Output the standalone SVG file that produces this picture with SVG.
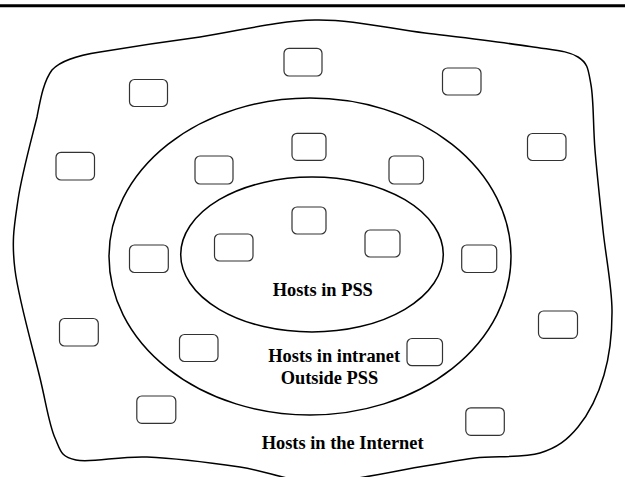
<svg xmlns="http://www.w3.org/2000/svg" width="625" height="477" viewBox="0 0 625 477">
<style>
.region{fill:none;stroke:#000;stroke-width:1.5}
.host{fill:#fff;stroke:#333;stroke-width:1.2}
.lbl{font-family:"Liberation Serif","Times New Roman",serif;font-weight:bold;font-size:18.4px;fill:#000}
</style>
<rect x="0" y="0" width="625" height="477" fill="#fff"/>
<line x1="0" y1="5.8" x2="625" y2="5.8" stroke="#000" stroke-width="3"/>
<g id="internet">
<path class="region" d="M 315,20 C 352.5,19.3 389.2,28.6 425,33 C 460.8,37.4 504.5,42.5 530,46.5 C 555.5,50.5 567.8,50.6 578,57 C 588.2,63.4 588.2,69.5 591,85 C 593.8,100.5 593,125.8 595,150 C 597,174.2 600.2,203.3 603,230 C 605.8,256.7 611.8,285.8 612,310 C 612.2,334.2 609.7,355.5 604,375 C 598.3,394.5 588.7,414 578,427 C 567.3,440 557.2,447.8 540,453 C 522.8,458.2 494.2,455.8 475,458 C 455.8,460.2 450.8,462 425,466 C 399.2,470 350.8,481.8 320,482 C 289.2,482.2 268.8,471.2 240,467 C 211.2,462.8 174.3,458.2 147,457 C 119.7,455.8 91.3,463.2 76,460 C 60.7,456.8 61,451.7 55,438 C 49,424.3 46.7,406 40,378 C 33.3,350 18.7,299.7 15,270 C 11.3,240.3 14.3,225.5 18,200 C 21.7,174.5 32,137.3 37,117 C 40,102 43,82 52,70 C 60,61 75,56 100,52 C 130,47 170,41 200,37 C 240,30.8 277.5,20.7 315,20 Z"/>
<text class="lbl" x="261.7" y="449.3">Hosts in the Internet</text>
</g>
<g id="intranet">
<ellipse class="region" cx="310" cy="256.5" rx="201" ry="158.5"/>
<text class="lbl" x="268.3" y="361.7">Hosts in intranet</text>
<text class="lbl" x="280.7" y="384">Outside PSS</text>
</g>
<g id="pss">
<ellipse class="region" cx="312" cy="254.5" rx="131.3" ry="77.5"/>
<text class="lbl" x="272.7" y="296">Hosts in PSS</text>
</g>
<g id="connectors"/>
<g id="host1"><rect class="host" x="284" y="48.3" width="38" height="27.7" rx="5"/></g>
<g id="host2"><rect class="host" x="129.5" y="79.5" width="38" height="27" rx="5"/></g>
<g id="host3"><rect class="host" x="442.5" y="68" width="38.5" height="27" rx="5"/></g>
<g id="host4"><rect class="host" x="292" y="133.3" width="34" height="27" rx="5"/></g>
<g id="host5"><rect class="host" x="527.5" y="133.5" width="38.5" height="27" rx="5"/></g>
<g id="host6"><rect class="host" x="56" y="152.3" width="38.5" height="27.7" rx="5"/></g>
<g id="host7"><rect class="host" x="195" y="156" width="38" height="28" rx="5"/></g>
<g id="host8"><rect class="host" x="389" y="156" width="34.5" height="28" rx="5"/></g>
<g id="host9"><rect class="host" x="292" y="207" width="34" height="27" rx="5"/></g>
<g id="host10"><rect class="host" x="214.5" y="234" width="38.5" height="27" rx="5"/></g>
<g id="host11"><rect class="host" x="365" y="230" width="35" height="27" rx="5"/></g>
<g id="host12"><rect class="host" x="129.5" y="245" width="38.8" height="27.5" rx="5"/></g>
<g id="host13"><rect class="host" x="461.7" y="245" width="35" height="27.5" rx="5"/></g>
<g id="host14"><rect class="host" x="59.5" y="318.5" width="38.8" height="27.5" rx="5"/></g>
<g id="host15"><rect class="host" x="538.5" y="311" width="39" height="27.3" rx="5"/></g>
<g id="host16"><rect class="host" x="179.5" y="334.5" width="38.5" height="27" rx="5"/></g>
<g id="host17"><rect class="host" x="407" y="338.5" width="35.5" height="27.2" rx="5"/></g>
<g id="host18"><rect class="host" x="136.8" y="396" width="39" height="27.3" rx="5"/></g>
<g id="host19"><rect class="host" x="465.8" y="407.8" width="38.5" height="27.5" rx="5"/></g>
</svg>
